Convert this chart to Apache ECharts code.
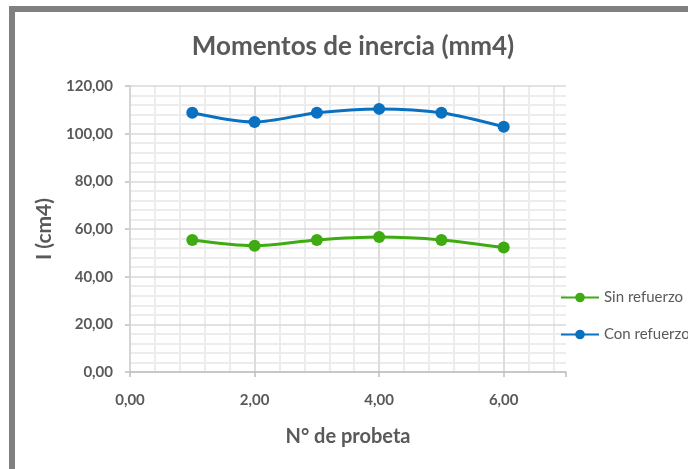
<!DOCTYPE html>
<html><head><meta charset="utf-8">
<script src="https://cdn.jsdelivr.net/npm/echarts@6/dist/echarts.min.js"></script>
<style>
html,body{margin:0;padding:0;background:#fff;overflow:hidden}
#chart{position:absolute;left:0;top:0;width:688px;height:469px}
#frame{position:absolute;left:9px;top:6px;width:720px;height:520px;border-left:6px solid #808080;border-top:6px solid #808080;box-sizing:border-box;pointer-events:none}
</style></head>
<body>
<div id="chart"></div><div id="frame"></div>
<script>
const titleText = 'Momentos de inercia (mm4)';
const xName = 'N° de probeta';
const yName = 'I (cm4)';
const probeta = [1, 2, 3, 4, 5, 6];
const sinRefuerzo = [55.4, 53.0, 55.4, 56.6, 55.4, 52.2];
const conRefuerzo = [108.8, 104.9, 108.8, 110.4, 108.8, 102.9];
const seriesNames = ['Sin refuerzo', 'Con refuerzo'];

const FONT = 'Lato, "Open Sans", sans-serif';
const GREY = '#595959';
const fmt = v => v.toFixed(2).replace('.', ',');

const chart = echarts.init(document.getElementById('chart'));
const minorColors = [];
for (let i = 0; i < 18; i++) minorColors.push('#ececec');
minorColors.push('transparent');

chart.setOption({
  backgroundColor: 'transparent',
  animation: false,
  title: {
    text: titleText, left: 348, top: 29, textAlign: 'center',
    textStyle: { fontFamily: FONT, fontSize: 26, fontWeight: 'bold', color: GREY }
  },
  legend: {
    orient: 'vertical', left: 555, top: 285, itemWidth: 38, itemHeight: 12, itemGap: 22,
    textStyle: { fontFamily: FONT, fontSize: 15, color: GREY },
    data: seriesNames
  },
  grid: { left: 130, right: 122, top: 86, bottom: 97, containLabel: false },
  xAxis: [{
    type: 'value', min: 0, max: 7, interval: 2,
    name: xName, nameLocation: 'middle', nameGap: 55,
    nameTextStyle: { fontFamily: FONT, fontSize: 20, fontWeight: 'bold', color: GREY },
    axisLine: { show: true, onZero: false, lineStyle: { color: '#bfbfbf', width: 1.5 } },
    axisTick: { show: true, length: 5, lineStyle: { color: '#bfbfbf', width: 1.5 } },
    axisLabel: { margin: 21, fontFamily: FONT, fontSize: 15, fontWeight: 'bold', color: GREY,
      formatter: v => (v === 7 ? '' : fmt(v)) },
    splitLine: { show: true, lineStyle: { color: ['#d9d9d9', '#d9d9d9', '#d9d9d9', '#d9d9d9', 'transparent'], width: 1.5 } },
    z: 3
  }, {
    type: 'value', min: 0, max: 7, interval: 0.4, position: 'bottom',
    axisLine: { show: false }, axisTick: { show: false }, axisLabel: { show: false },
    splitLine: { show: true, lineStyle: { color: minorColors, width: 2 } },
    z: 1
  }],
  yAxis: {
    type: 'value', min: 0, max: 120, interval: 20,
    name: yName, nameLocation: 'middle', nameGap: 72, nameRotate: 90,
    nameTextStyle: { fontFamily: FONT, fontSize: 21, fontWeight: 'bold', color: GREY },
    axisLine: { show: true, lineStyle: { color: '#bfbfbf', width: 1.5 } },
    axisTick: { show: true, length: 5, lineStyle: { color: '#bfbfbf', width: 1.5 } },
    axisLabel: { margin: 17, fontFamily: FONT, fontSize: 15, fontWeight: 'bold', color: GREY, formatter: fmt },
    splitLine: { show: true, lineStyle: { color: '#d9d9d9', width: 1.5 } },
    minorTick: { show: false, splitNumber: 5 },
    minorSplitLine: { show: true, lineStyle: { color: '#ececec', width: 2 } },
    z: 2
  },
  series: [{
    name: seriesNames[0], type: 'line', smooth: 0.3,
    data: probeta.map((x, i) => [x, sinRefuerzo[i]]),
    symbol: 'circle', symbolSize: 12,
    lineStyle: { color: '#3fab12', width: 3 },
    itemStyle: { color: '#3fab12' }, z: 5
  }, {
    name: seriesNames[1], type: 'line', smooth: 0.3,
    data: probeta.map((x, i) => [x, conRefuerzo[i]]),
    symbol: 'circle', symbolSize: 12,
    lineStyle: { color: '#0a70c0', width: 3 },
    itemStyle: { color: '#0a70c0' }, z: 5
  }]
});
</script>
</body></html>
